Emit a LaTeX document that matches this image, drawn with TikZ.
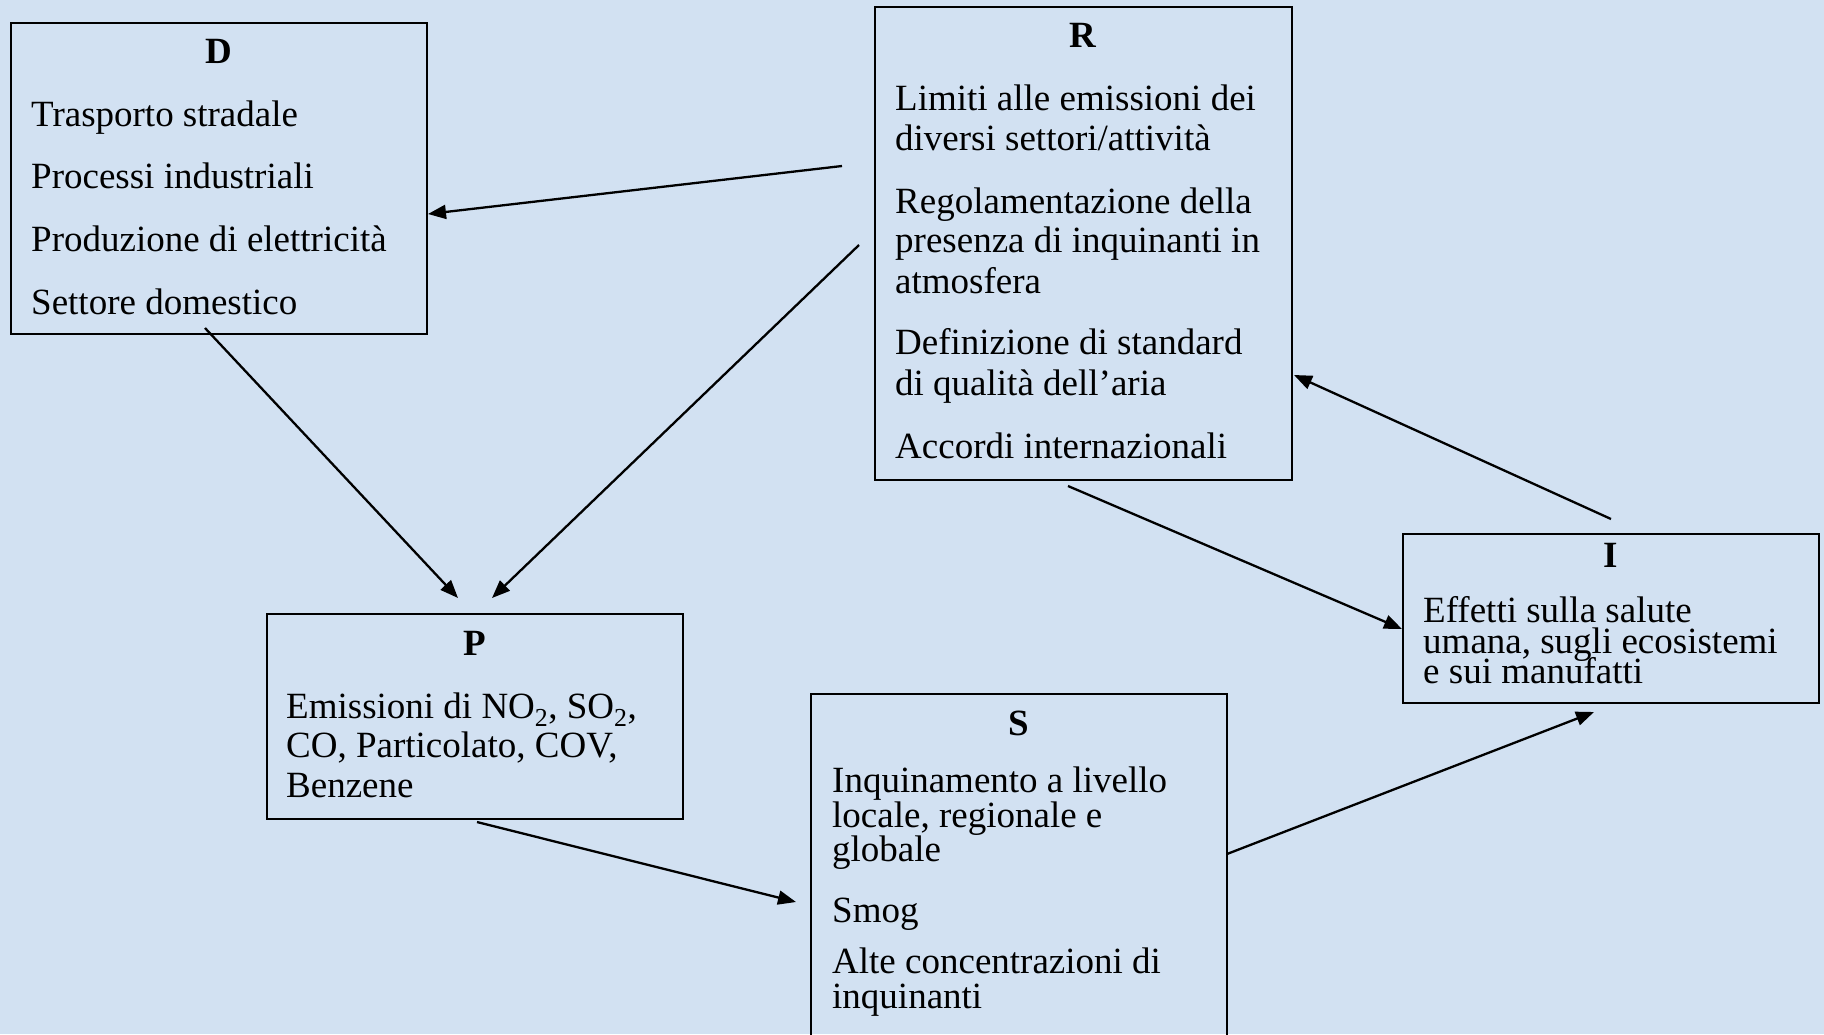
\documentclass[tikz,border=0pt]{standalone}
\usepackage{fontspec}
\setmainfont{Liberation Serif}
\usetikzlibrary{arrows.meta,calc}
\definecolor{paper}{RGB}{210,225,242}
\tikzset{
  box/.style={draw=black, line width=2pt, inner sep=0pt, outer sep=0pt, anchor=north west},
  txt/.style={anchor=base west, inner sep=0pt, font=\fontsize{37}{40}\selectfont},
  ttl/.style={anchor=base, inner sep=0pt, font=\fontsize{37}{40}\selectfont\bfseries},
  arr/.style={line width=2.3pt, -{Triangle[length=18pt,width=14pt]}}
}
\begin{document}
\begin{tikzpicture}[x=1pt,y=-1pt]
% page and background
\useasboundingbox (0,0) rectangle (1824,1034);
\clip (0,0) rectangle (1824,1034);
\fill[paper] (0,0) rectangle (1824,1034);

% D: driving forces
\node[box, minimum width=416pt, minimum height=311pt] (D) at (11,23) {};
\node[ttl] (Dt) at (219,63) {D};
\node[txt] (D1) at (31,126) {Trasporto stradale};
\node[txt] (D2) at (31,188) {Processi industriali};
\node[txt] (D3) at (31,251) {Produzione di elettricità};
\node[txt] (D4) at (31,314) {Settore domestico};

% R: responses
\node[box, minimum width=417pt, minimum height=473pt] (R) at (875,7) {};
\node[ttl] (Rt) at (1083,47) {R};
\node[txt] (R1) at (895,110) {Limiti alle emissioni dei};
\node[txt] (R2) at (895,150) {diversi settori/attività};
\node[txt] (R3) at (895,213) {Regolamentazione della};
\node[txt] (R4) at (895,252) {presenza di inquinanti in};
\node[txt] (R5) at (895,293) {atmosfera};
\node[txt] (R6) at (895,354) {Definizione di standard};
\node[txt] (R7) at (895,395) {di qualità dell’aria};
\node[txt] (R8) at (895,458) {Accordi internazionali};

% I: impacts
\node[box, minimum width=416pt, minimum height=169pt] (I) at (1403,534) {};
\node[ttl] (It) at (1611,567) {I};
\node[txt] (I1) at (1423,622) {Effetti sulla salute};
\node[txt] (I2) at (1423,653) {umana, sugli ecosistemi};
\node[txt] (I3) at (1423,683) {e sui manufatti};

% P: pressures
\node[box, minimum width=416pt, minimum height=205pt] (P) at (267,614) {};
\node[ttl] (Pt) at (475,655) {P};
\node[txt] (P1) at (286,718) {Emissioni di NO\textsubscript{2}, SO\textsubscript{2},};
\node[txt] (P2) at (286,757) {CO, Particolato, COV,};
\node[txt] (P3) at (286,797) {Benzene};

% S: state
\node[box, minimum width=416pt, minimum height=360pt] (S) at (811,694) {};
\node[ttl] (St) at (1019,735) {S};
\node[txt] (S1) at (832,792) {Inquinamento a livello};
\node[txt] (S2) at (832,827) {locale, regionale e};
\node[txt] (S3) at (832,861) {globale};
\node[txt] (S4) at (832,922) {Smog};
\node[txt] (S5) at (832,973) {Alte concentrazioni di};
\node[txt] (S6) at (832,1008) {inquinanti};

% connectors
\draw[arr] ($(R.north west)+(-33,159)$) -- ($(D.north east)+(1,191)$);
\draw[arr] ($(R.north west)+(-16,238)$) -- ($(P.north west)+(225,-16)$);
\draw[arr] ($(D.south west)+(194,-6)$) -- ($(P.north west)+(191,-16)$);
\draw[arr] ($(P.south west)+(210,3)$) -- ($(S.north west)+(-15,208)$);
\draw[arr] ($(S.north east)+(0,160)$) -- ($(I.south west)+(191,9)$);
\draw[arr] ($(I.north west)+(208,-15)$) -- ($(R.north east)+(2,368)$);
\draw[arr] ($(R.south west)+(193,6)$) -- ($(I.north west)+(-1,95)$);
\end{tikzpicture}
\end{document}
